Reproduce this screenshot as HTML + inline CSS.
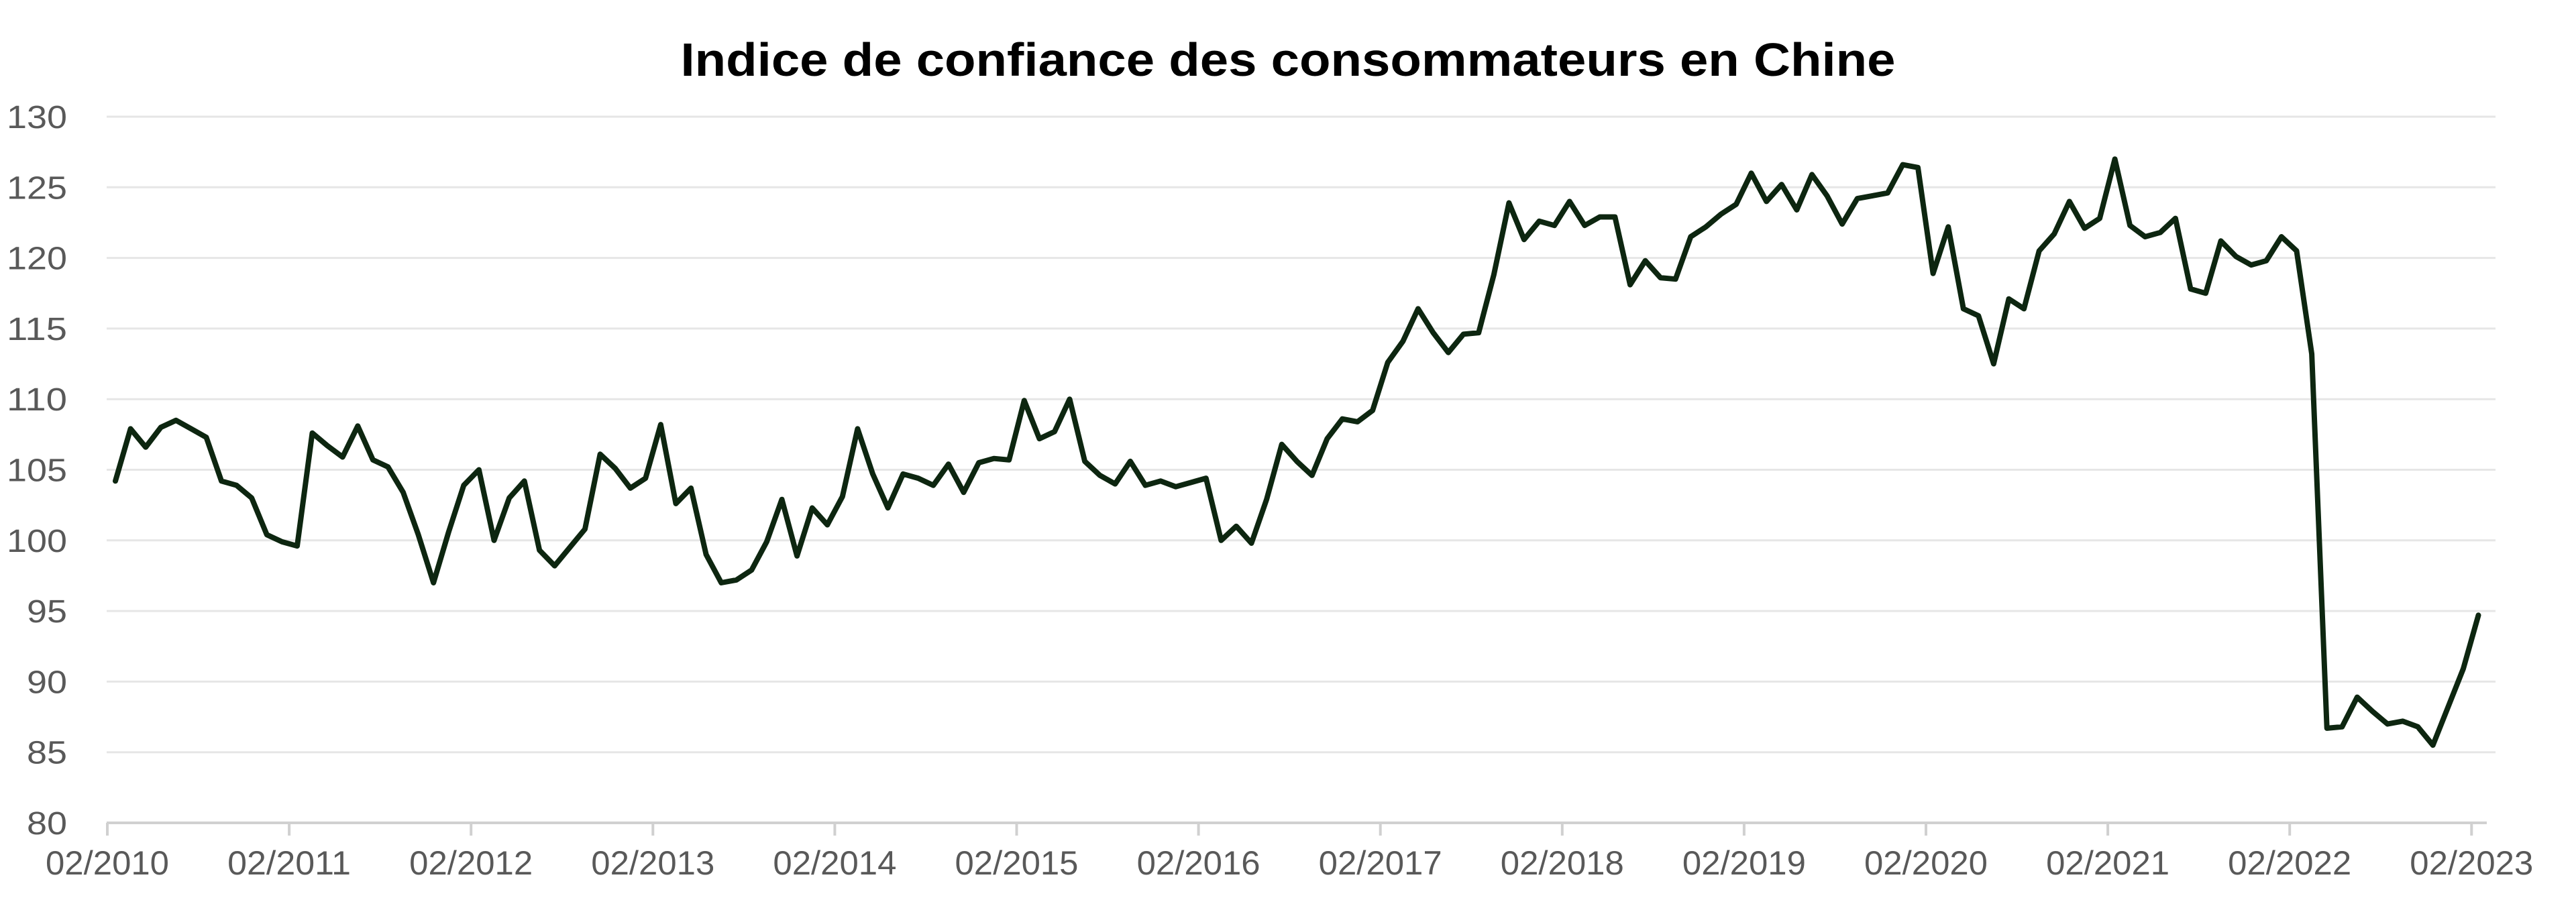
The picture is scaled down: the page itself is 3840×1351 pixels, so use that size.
<!DOCTYPE html>
<html><head><meta charset="utf-8"><style>
html,body{margin:0;padding:0;background:#fff;width:3840px;height:1351px;overflow:hidden}
</style></head><body>
<svg id="s" width="3840" height="1351" xmlns="http://www.w3.org/2000/svg" font-family="Liberation Sans, sans-serif">
<text x="1920" y="113" text-anchor="middle" font-size="70" font-weight="bold" fill="#000" textLength="1811" lengthAdjust="spacingAndGlyphs">Indice de confiance des consommateurs en Chine</text>
<g id="grid"></g>
<g id="lab"></g>
<path id="ln" fill="none" stroke="#0d2610" stroke-width="8" stroke-linejoin="round" stroke-linecap="round"/>
</svg>
<script>
var d=[104.2,107.9,106.6,108.0,108.5,107.9,107.3,104.2,103.9,103.0,100.4,99.9,
99.6,107.6,106.7,105.9,108.1,105.7,105.2,103.4,100.4,97.0,100.6,103.9,
105.0,100.0,103.0,104.2,99.3,98.2,99.5,100.8,106.1,105.1,103.7,104.4,
108.2,102.6,103.7,99.0,97.0,97.2,97.9,99.9,102.9,98.9,102.3,101.1,
103.1,107.9,104.7,102.3,104.7,104.4,103.9,105.4,103.4,105.5,105.8,105.7,
109.9,107.2,107.7,110.0,105.6,104.6,104.0,105.6,103.9,104.2,103.8,104.1,
104.4,100.0,101.0,99.8,102.9,106.8,105.6,104.6,107.2,108.6,108.4,109.2,
112.6,114.1,116.4,114.7,113.3,114.6,114.7,118.8,123.9,121.3,122.6,122.3,
124.0,122.3,122.9,122.9,118.1,119.8,118.6,118.5,121.5,122.2,123.1,123.8,
126.0,124.0,125.2,123.4,125.9,124.4,122.4,124.2,124.4,124.6,126.6,126.4,
118.9,122.2,116.4,115.9,112.5,117.1,116.4,120.5,121.7,124.0,122.1,122.8,
127.0,122.3,121.5,121.8,122.8,117.8,117.5,121.2,120.1,119.5,119.8,121.5,
120.5,113.2,86.7,86.8,88.9,87.9,87.0,87.2,86.8,85.5,88.2,90.9,94.7];
function Y(v){return 174+(130-v)*(1227-174)/50;}
var ns="http://www.w3.org/2000/svg",g=document.getElementById('grid'),l=document.getElementById('lab');
function el(p,t,a,txt){var e=document.createElementNS(ns,t);for(var k in a)e.setAttribute(k,a[k]);if(txt)e.textContent=txt;p.appendChild(e);}
for(var v=85;v<=130;v+=5){el(g,'line',{x1:159,x2:3720,y1:Y(v),y2:Y(v),stroke:'#e6e6e6','stroke-width':3});}
for(var v=80;v<=130;v+=5){var s=String(v);el(l,'text',{x:100,y:Y(v)+17,'text-anchor':'end','font-size':48,fill:'#595959',textLength:(s.length*30),lengthAdjust:'spacingAndGlyphs'},s);}
el(g,'line',{x1:159,x2:3707,y1:1227,y2:1227,stroke:'#d0d0d0','stroke-width':4});
for(var i=0;i<=13;i++){var x=160+271.1*i;el(g,'line',{x1:x,x2:x,y1:1227,y2:1246,stroke:'#d0d0d0','stroke-width':4});
el(l,'text',{x:x,y:1304,'text-anchor':'middle','font-size':50,fill:'#595959',textLength:184,lengthAdjust:'spacingAndGlyphs'},'02/'+(2010+i));}
var p='';for(var i=0;i<d.length;i++){p+=(i?'L':'M')+(172+22.58*i).toFixed(1)+' '+Y(d[i]).toFixed(1);}
document.getElementById('ln').setAttribute('d',p);
</script>
</body></html>
